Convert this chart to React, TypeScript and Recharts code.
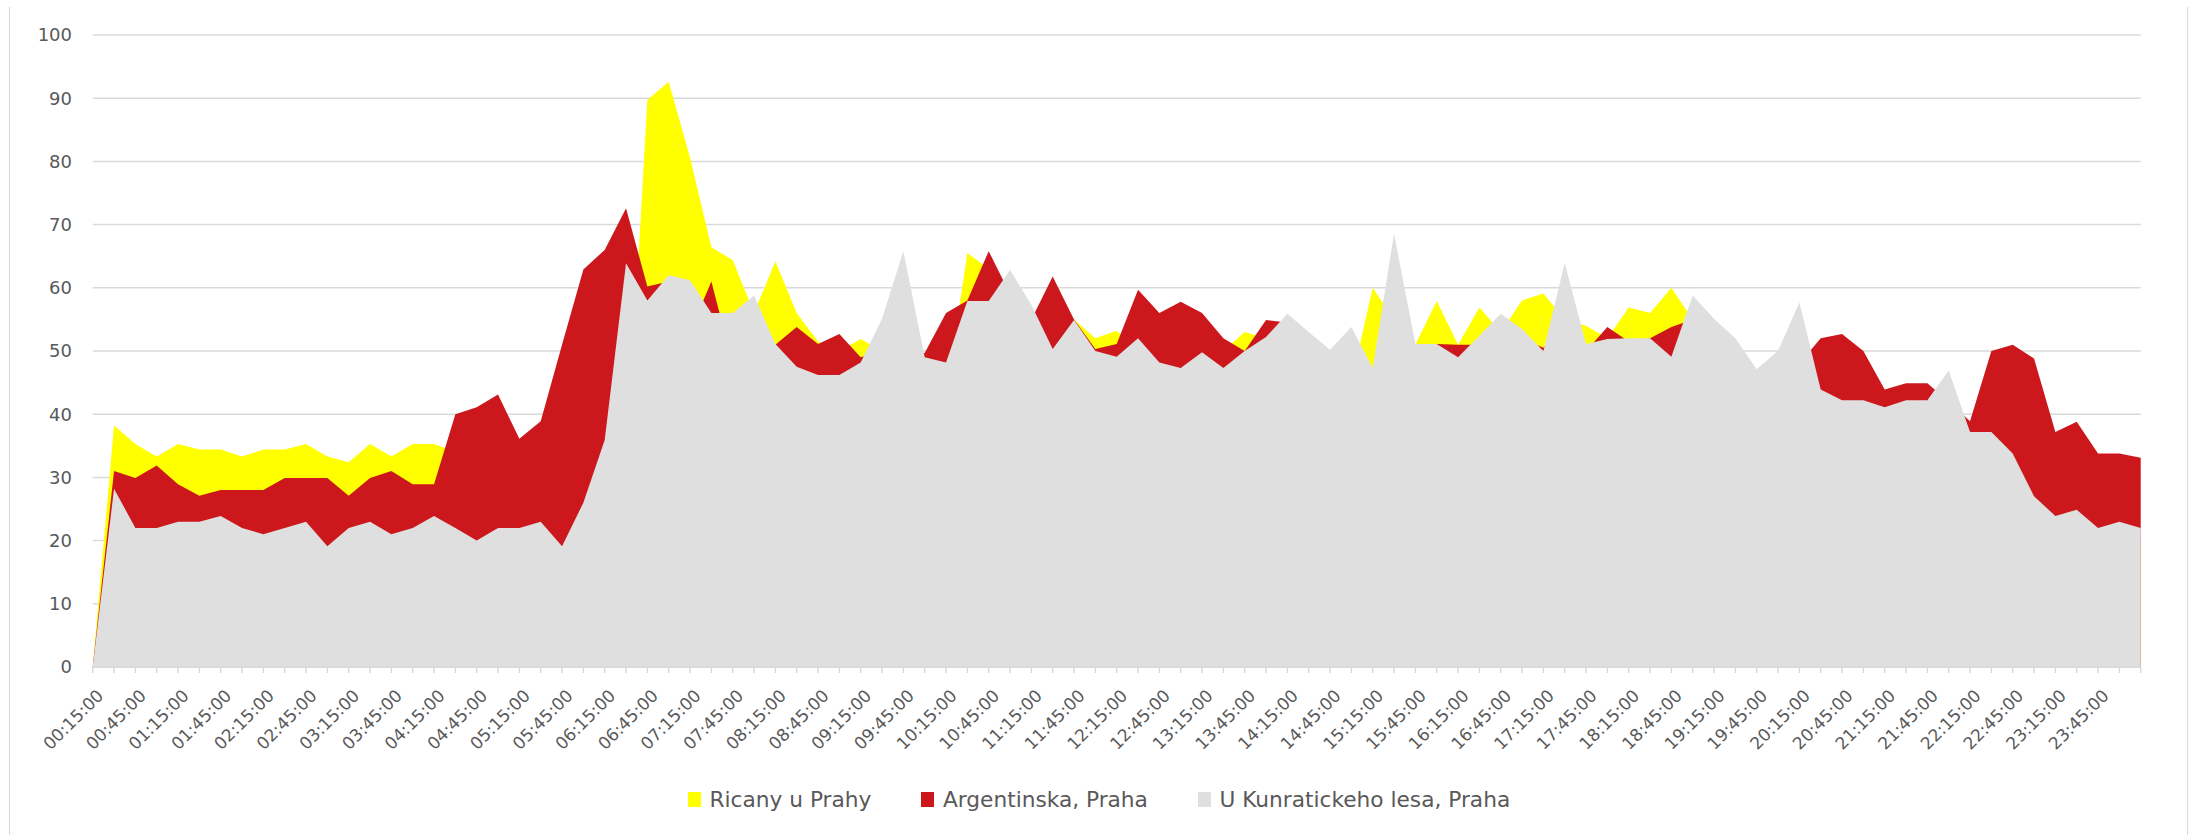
import React from 'react';
import { AreaChart, Area, XAxis, YAxis, CartesianGrid, Legend } from 'recharts';

// 15-minute slots, 00:15 through 00:15 of the next day
const times: string[] = [];
for (let i = 0; i < 97; i++) {
  const m = (15 + i * 15) % (24 * 60);
  const hh = String(Math.floor(m / 60)).padStart(2, '0');
  const mm = String(m % 60).padStart(2, '0');
  times.push(`${hh}:${mm}:00`);
}

const ricany = [
  0, 38.2, 35.3, 33.3, 35.3, 34.4, 34.4, 33.3, 34.4, 34.4,
  35.3, 33.3, 32.4, 35.3, 33.3, 35.3, 35.3, 34, 34, 35,
  33, 34, 34, 33, 33, 30, 89.7, 92.6, 80.6, 66.4,
  64.4, 56, 64.2, 56, 51.5, 50, 51.9, 50, 52, 48,
  43, 65.5, 63, 57, 55, 50, 55, 52, 53.2, 50,
  48, 47, 49, 50, 53, 52, 54, 52, 49, 45,
  60, 55, 51, 57.9, 51, 56.9, 53, 58, 59.1, 55,
  54, 52, 56.9, 56, 60, 55, 52, 50, 46, 48,
  50, 45, 44, 43, 40, 40, 41, 40, 36, 35,
  32, 26, 23, 22, 20, 20, 20,
];

const argentinska = [
  0, 31, 29.9, 31.9, 28.9, 27.1, 28, 28, 28, 29.9,
  29.9, 29.9, 27.1, 29.9, 31, 28.9, 28.9, 40, 41.1, 43.1,
  36.1, 38.9, 51, 62.9, 66, 72.6, 60.2, 61, 53, 61,
  48, 50, 51, 53.8, 51.1, 52.7, 49, 50, 50, 49.7,
  56, 58, 65.8, 59, 55, 61.8, 55, 50.3, 51.1, 59.7,
  56, 57.8, 56, 52, 50, 54.9, 54.5, 52, 49, 52,
  46, 50, 51, 51.1, 51, 51, 53, 52, 50.5, 54,
  50, 53.8, 51.5, 52, 53.8, 55, 53, 50, 46, 48,
  48, 52, 52.7, 50, 43.9, 44.9, 44.9, 42, 38.9, 50,
  51, 48.8, 37.2, 38.8, 33.8, 33.8, 33.1,
];

const kunraticky = [
  0, 28.2, 22, 22, 23, 23, 23.9, 22, 21, 22,
  23, 19.1, 22, 23, 21, 22, 23.9, 22, 20, 22,
  22, 23, 19.1, 26, 35.9, 63.9, 58, 62, 61.2, 56,
  56, 58.8, 51.1, 47.5, 46.2, 46.2, 48.2, 55.1, 65.8, 49,
  48.2, 57.9, 57.9, 62.8, 57.3, 50.3, 54.9, 50, 49.1, 52,
  48.2, 47.3, 49.8, 47.3, 50, 52.2, 55.9, 53, 50.2, 53.8,
  47.3, 68.6, 51.1, 51.1, 49, 52.4, 55.9, 53.5, 50, 63.9,
  51.1, 51.9, 52, 52, 49.1, 58.8, 55.1, 52, 47.1, 50,
  57.7, 43.9, 42.2, 42.2, 41.1, 42.2, 42.2, 46.9, 37.2, 37.2,
  33.8, 27, 23.9, 24.9, 22, 23, 22,
];

const yTicks = [0, 10, 20, 30, 40, 50, 60, 70, 80, 90, 100];

const seriesNames = ['Ricany u Prahy', 'Argentinska, Praha', 'U Kunratickeho lesa, Praha'];
const seriesColors = ['#FFFF00', '#CC181C', '#DFDFDF'];

const data = times.map((t, i) => ({
  time: t,
  ricany: ricany[i],
  argentinska: argentinska[i],
  kunraticky: kunraticky[i],
}));

const FONT = '"DejaVu Sans", sans-serif';
const TEXT = '#595959';
const LINE = '#D9D9D9';

// every category gets a tick mark, but only every second one a label
const TimeTick = (props: any) => {
  const { x, y, payload } = props;
  const idx = payload.index ?? props.index;
  if (idx % 2 !== 0 || idx >= times.length - 1) return null;
  const tx = x + 3;
  return (
    <text
      x={tx}
      y={y}
      dy={12.4}
      textAnchor="end"
      transform={`rotate(-45, ${tx}, ${y})`}
      fontFamily={FONT}
      fontSize={17}
      fill={TEXT}
    >
      {payload.value}
    </text>
  );
};

const LegendContent = (props: any) => {
  // keep the series order of the original legend
  const items = [...(props.payload || [])].sort(
    (a: any, b: any) => seriesNames.indexOf(a.value) - seriesNames.indexOf(b.value)
  );
  return (
    <div
      style={{
        display: 'flex',
        alignItems: 'center',
        paddingLeft: 688,
        fontFamily: FONT,
        fontSize: 21.7,
        lineHeight: '25px',
        color: TEXT,
      }}
    >
      {items.map((it: any) => {
        const i = seriesNames.indexOf(it.value);
        return (
          <div key={it.value} style={{ display: 'flex', alignItems: 'center', marginRight: 50 }}>
            <span style={{ display: 'inline-block', width: 13, height: 15, background: seriesColors[i], marginRight: 8.5 }} />
            <span>{it.value}</span>
          </div>
        );
      })}
    </div>
  );
};

const App: React.FC = () => {
  return (
    <div style={{ position: 'absolute', left: 0, top: 0, width: 2188, height: 835, background: '#fff', overflow: 'hidden' }}>
      <div
        style={{
          position: 'absolute',
          left: 8.5,
          top: 7,
          width: 2179,
          height: 840,
          borderLeft: `1.5px solid ${LINE}`,
          borderRight: `1.5px solid ${LINE}`,
          boxSizing: 'border-box',
        }}
      />
      <div style={{ position: 'absolute', left: 0, top: 0 }}>
        <AreaChart width={2188} height={835} data={data} margin={{ top: 35, right: 47.3, bottom: 68, left: 0 }}>
          <CartesianGrid vertical={false} stroke={LINE} strokeWidth={1.5} />
          <XAxis
            dataKey="time"
            interval={0}
            height={100}
            axisLine={{ stroke: LINE, strokeWidth: 1.5 }}
            tickLine={{ stroke: LINE, strokeWidth: 1.5 }}
            tickSize={6}
            tickMargin={15}
            tick={<TimeTick />}
          />
          <YAxis
            domain={[0, 100]}
            ticks={yTicks}
            width={92.7}
            axisLine={false}
            tickLine={false}
            tickMargin={14.7}
            tick={{ fontFamily: FONT, fontSize: 18, fill: TEXT }}
          />
          <Area
            type="linear"
            dataKey="ricany"
            name={seriesNames[0]}
            stroke="none"
            fill={seriesColors[0]}
            fillOpacity={1}
            isAnimationActive={false}
          />
          <Area
            type="linear"
            dataKey="argentinska"
            name={seriesNames[1]}
            stroke="none"
            fill={seriesColors[1]}
            fillOpacity={1}
            isAnimationActive={false}
          />
          <Area
            type="linear"
            dataKey="kunraticky"
            name={seriesNames[2]}
            stroke="none"
            fill={seriesColors[2]}
            fillOpacity={1}
            isAnimationActive={false}
          />
          <Legend
            layout="horizontal"
            verticalAlign="middle"
            align="center"
            wrapperStyle={{ top: 787, left: 0, width: 2188 }}
            content={<LegendContent />}
          />
        </AreaChart>
      </div>
    </div>
  );
};

export default App;
